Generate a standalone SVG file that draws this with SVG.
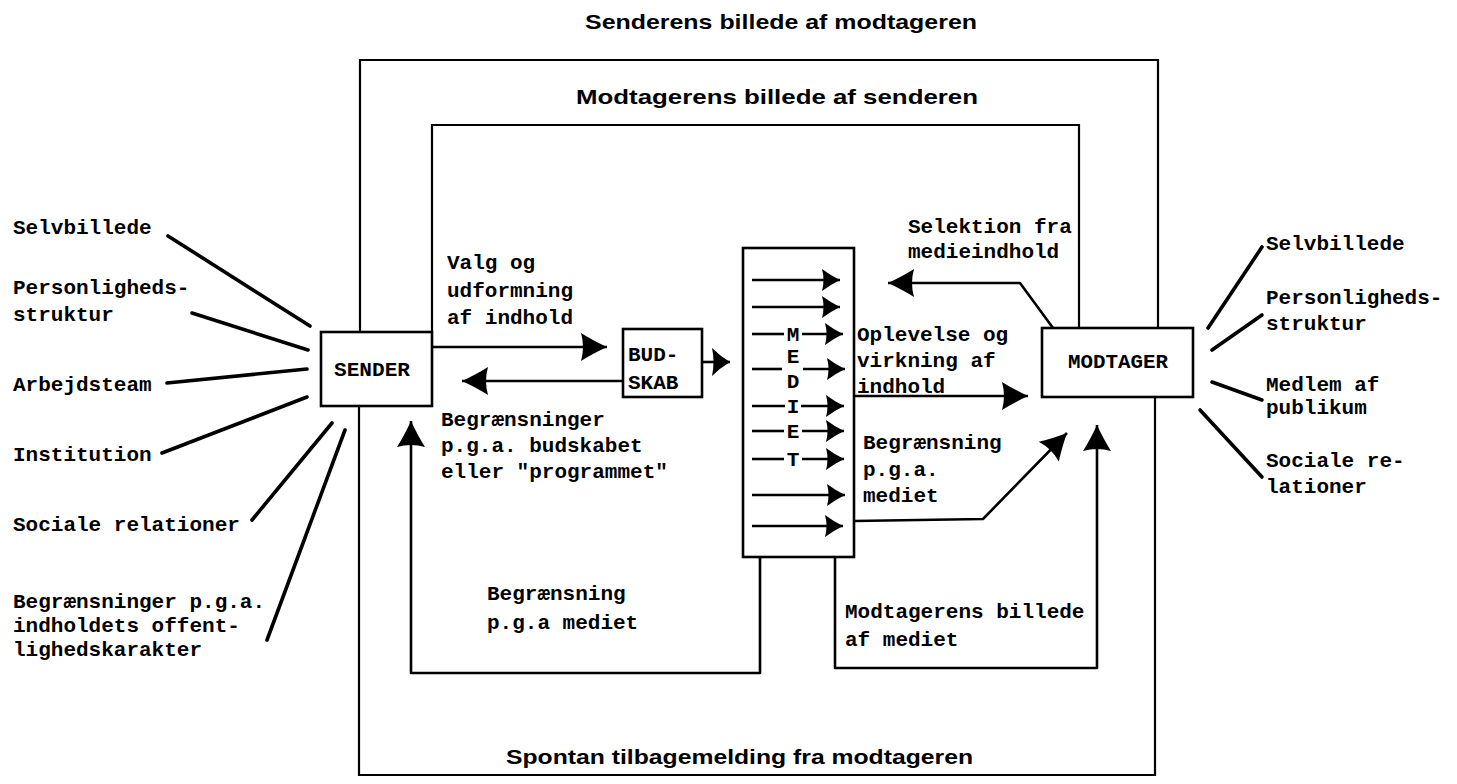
<svg xmlns="http://www.w3.org/2000/svg" width="1457" height="784" viewBox="0 0 1457 784">
  <style>
    .t { font-family: "Liberation Mono", "DejaVu Sans Mono", monospace; font-weight: bold; font-size: 21px; fill: #000; }
    .title { font-family: "Liberation Sans", "DejaVu Sans", sans-serif; font-weight: bold; font-size: 21px; fill: #000; }
    .box { fill: #fff; stroke: #000; stroke-width: 2.6; }
    .frame { fill: none; stroke: #000; stroke-width: 2.2; }
    .ln { fill: none; stroke: #000; stroke-width: 2.6; stroke-linejoin: round; }
    .spoke { fill: none; stroke: #000; stroke-width: 3.6; stroke-linecap: round; }
    .big { marker-end: url(#head); }
    .small { marker-end: url(#headS); }
  </style>
  <defs>
    <!-- filled typewriter-style arrowheads, tip at the path end -->
    <marker id="head" markerUnits="userSpaceOnUse" markerWidth="32" markerHeight="34" viewBox="-2 -16 32 32" refX="26" refY="0" orient="auto">
      <path d="M0,-14 Q11,-7 26,0 Q11,7 0,14 Q4,0 0,-14 Z" fill="#000"/>
    </marker>
    <marker id="headS" markerUnits="userSpaceOnUse" markerWidth="24" markerHeight="26" viewBox="-2 -12 24 24" refX="18" refY="0" orient="auto">
      <path d="M0,-11 Q8,-5 18,0 Q8,5 0,11 Q3,0 0,-11 Z" fill="#000"/>
    </marker>
    <marker id="headM" markerUnits="userSpaceOnUse" markerWidth="24" markerHeight="32" viewBox="-2 -15 24 30" refX="18" refY="0" orient="auto">
      <path d="M0,-14 Q8,-6 18,0 Q8,6 0,14 Q3,0 0,-14 Z" fill="#000"/>
    </marker>
  </defs>
  <rect width="1457" height="784" fill="#fff"/>

  <!-- titles around the frames -->
  <text class="title" x="585" y="29" textLength="392" lengthAdjust="spacingAndGlyphs">Senderens billede af modtageren</text>
  <text class="title" x="576" y="104" textLength="402" lengthAdjust="spacingAndGlyphs">Modtagerens billede af senderen</text>
  <text class="title" x="506" y="764" textLength="467" lengthAdjust="spacingAndGlyphs">Spontan tilbagemelding fra modtageren</text>

  <g id="connectors">
    <!-- outer frame: sender's image of the receiver / spontaneous feedback -->
    <path class="frame" d="M360,332 V60 H1158 V328"/>
    <path class="frame" d="M359,406 V775 H1155 V397"/>
    <!-- inner frame: receiver's image of the sender -->
    <path class="frame" d="M432,332 V125 H1079 V328"/>

    <!-- sender -> message -->
    <path class="ln big" d="M432,347 H607"/>
    <!-- message -> sender (constraints) -->
    <path class="ln big" d="M623,381 H462"/>
    <!-- message -> media -->
    <path class="ln" d="M702,362 H730" marker-end="url(#headM)"/>

    <!-- arrows through the media column -->
    <path class="ln small" d="M752,280 H840"/>
    <path class="ln small" d="M752,307 H840"/>
    <path class="ln" d="M752,334 H784"/>
    <path class="ln small" d="M802,334 H843"/>
    <path class="ln" d="M752,369 H782"/>
    <path class="ln small" d="M803,369 H845"/>
    <path class="ln" d="M752,406 H785"/>
    <path class="ln small" d="M801,406 H844"/>
    <path class="ln" d="M752,431 H784"/>
    <path class="ln small" d="M802,431 H844"/>
    <path class="ln" d="M752,459 H784"/>
    <path class="ln small" d="M802,459 H844"/>
    <path class="ln small" d="M752,495 H845"/>
    <path class="ln small" d="M752,526 H843"/>

    <!-- media -> receiver -->
    <path class="ln big" d="M854,396 H1028"/>
    <!-- selection from media content -->
    <path class="ln big" d="M1053,328 L1020,283 H888"/>
    <!-- constraint by the medium (receiver side) -->
    <path class="ln big" d="M854,521 L983,519 L1067,433"/>
    <!-- receiver's image of the medium -->
    <path class="ln big" d="M835,557 V668 H1097 V425"/>
    <!-- constraint by the medium (sender side) -->
    <path class="ln big" d="M760,557 V673 H411 V421"/>

    <!-- sender influences -->
    <path class="spoke" d="M168,236 L310,326"/>
    <path class="spoke" d="M192,313 L308,350"/>
    <path class="spoke" d="M167,383 L307,369"/>
    <path class="spoke" d="M162,453 L307,397"/>
    <path class="spoke" d="M252,520 L332,423"/>
    <path class="spoke" d="M267,640 L345,430"/>

    <!-- receiver influences -->
    <path class="spoke" d="M1208,328 L1262,247"/>
    <path class="spoke" d="M1212,350 L1262,315"/>
    <path class="spoke" d="M1212,382 L1262,400"/>
    <path class="spoke" d="M1200,410 L1262,477"/>
  </g>

  <g id="sender">
    <rect class="box" x="321" y="332" width="111" height="74"/>
    <text class="t" x="372" y="376" text-anchor="middle" textLength="76" lengthAdjust="spacingAndGlyphs">SENDER</text>
  </g>

  <g id="budskab">
    <rect class="box" x="623" y="329" width="79" height="68"/>
    <text class="t" x="628" y="361">BUD-</text>
    <text class="t" x="628" y="389">SKAB</text>
  </g>

  <g id="mediet">
    <rect class="box" x="743" y="248" width="111" height="309" style="fill:none"/>
    <text class="t" x="793" y="341" text-anchor="middle">M</text>
    <text class="t" x="793" y="363" text-anchor="middle">E</text>
    <text class="t" x="793" y="388" text-anchor="middle">D</text>
    <text class="t" x="793" y="413" text-anchor="middle">I</text>
    <text class="t" x="793" y="438" text-anchor="middle">E</text>
    <text class="t" x="793" y="466" text-anchor="middle">T</text>
  </g>

  <g id="modtager">
    <rect class="box" x="1042" y="328" width="151" height="69"/>
    <text class="t" x="1118" y="368" text-anchor="middle" textLength="100" lengthAdjust="spacingAndGlyphs">MODTAGER</text>
  </g>

  <g id="sender-labels">
    <text class="t" x="13" y="234">Selvbillede</text>
    <text class="t" x="13" y="294">Personligheds-</text>
    <text class="t" x="13" y="321">struktur</text>
    <text class="t" x="13" y="391">Arbejdsteam</text>
    <text class="t" x="13" y="461">Institution</text>
    <text class="t" x="13" y="531">Sociale relationer</text>
    <text class="t" x="13" y="608">Begrænsninger p.g.a.</text>
    <text class="t" x="13" y="632">indholdets offent-</text>
    <text class="t" x="13" y="656">lighedskarakter</text>
  </g>

  <g id="receiver-labels">
    <text class="t" x="1266" y="250">Selvbillede</text>
    <text class="t" x="1266" y="304">Personligheds-</text>
    <text class="t" x="1266" y="330">struktur</text>
    <text class="t" x="1266" y="391">Medlem af</text>
    <text class="t" x="1266" y="414">publikum</text>
    <text class="t" x="1266" y="467">Sociale re-</text>
    <text class="t" x="1266" y="493">lationer</text>
  </g>

  <g id="flow-labels">
    <text class="t" x="447" y="269">Valg og</text>
    <text class="t" x="447" y="297">udformning</text>
    <text class="t" x="447" y="324">af indhold</text>
    <text class="t" x="441" y="426">Begrænsninger</text>
    <text class="t" x="441" y="452">p.g.a. budskabet</text>
    <text class="t" x="441" y="478">eller "programmet"</text>
    <text class="t" x="857" y="341">Oplevelse og</text>
    <text class="t" x="857" y="367">virkning af</text>
    <text class="t" x="857" y="393">indhold</text>
    <text class="t" x="908" y="233">Selektion fra</text>
    <text class="t" x="908" y="258">medieindhold</text>
    <text class="t" x="863" y="449">Begrænsning</text>
    <text class="t" x="863" y="476">p.g.a.</text>
    <text class="t" x="863" y="502">mediet</text>
    <text class="t" x="845" y="618">Modtagerens billede</text>
    <text class="t" x="845" y="646">af mediet</text>
    <text class="t" x="487" y="600">Begrænsning</text>
    <text class="t" x="487" y="629">p.g.a mediet</text>
  </g>
</svg>
